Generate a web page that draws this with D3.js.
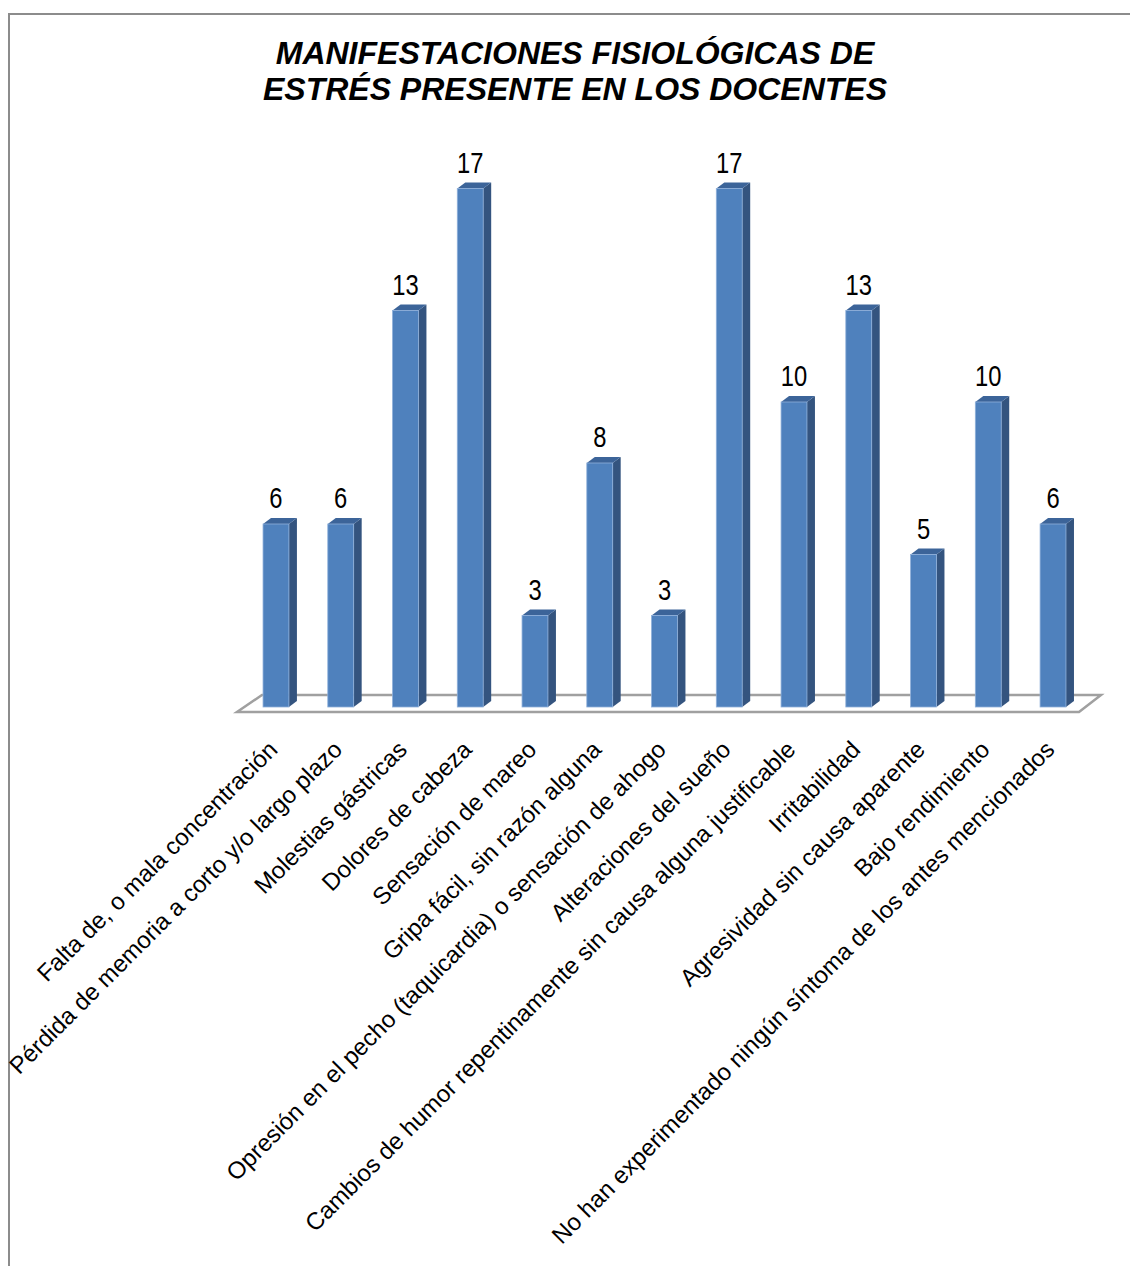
<!DOCTYPE html>
<html>
<head>
<meta charset="utf-8">
<script src="https://cdn.jsdelivr.net/npm/d3@7"></script>
<style>
  html, body { margin: 0; padding: 0; background: #fff; }
  svg { display: block; }
</style>
</head>
<body>
<svg id="chart" width="1130" height="1266"></svg>
<script>
const categories = [
  "Falta de, o mala concentración",
  "Pérdida de memoria a corto y/o largo plazo",
  "Molestias gástricas",
  "Dolores de cabeza",
  "Sensación de mareo",
  "Gripa fácil, sin razón alguna",
  "Opresión en el pecho (taquicardia) o sensación de ahogo",
  "Alteraciones del sueño",
  "Cambios de humor repentinamente sin causa alguna justificable",
  "Irritabilidad",
  "Agresividad sin causa aparente",
  "Bajo rendimiento",
  "No han experimentado ningún síntoma de los antes mencionados"
];
const values = [6, 6, 13, 17, 3, 8, 3, 17, 10, 13, 5, 10, 6];
const titleLines = ["MANIFESTACIONES FISIOLÓGICAS DE", "ESTRÉS PRESENTE EN LOS DOCENTES"];

const svg = d3.select("#chart");
const W = 1130, H = 1266;

// frame
svg.append("path")
  .attr("d", `M9,${H} L9,14 L${W},14`)
  .attr("fill", "none").attr("stroke", "#8c8c8c").attr("stroke-width", 2);

// title
const title = svg.append("text")
  .attr("text-anchor", "middle")
  .attr("font-family", "Liberation Sans, Arial, sans-serif")
  .attr("font-weight", "bold").attr("font-style", "italic")
  .attr("font-size", 32).attr("fill", "#000");
title.selectAll("tspan").data(titleLines).join("tspan")
  .attr("x", 575).attr("y", (d, i) => 64 + i * 36)
  .text(d => d);

const x = d3.scaleBand().domain(categories)
  .range([243.6, 1085.4]).paddingInner(0.6).paddingOuter(0.3);
const y = d3.scaleLinear().domain([0, 17]).range([707, 188.5]);

const dx = 8, dy = -6;      // bar depth
const fdx = 22, fdy = -17;  // floor depth

// floor
const fl = 237, fr = 1079, fy = 712;
svg.append("path")
  .attr("d", `M${fl},${fy} L${fr},${fy} L${fr + fdx},${fy + fdy} L${fl + fdx + 3},${fy + fdy} Z`)
  .attr("fill", "#fff").attr("stroke", "#a0a0a0").attr("stroke-width", 2.5)
  .attr("stroke-linejoin", "miter");

const bars = svg.append("g").selectAll("g").data(categories).join("g");
const bw = x.bandwidth();

// side face
bars.append("path")
  .attr("d", (d, i) => {
    const x1 = x(d) + bw, yt = y(values[i]), yb = y(0);
    return `M${x1},${yb} L${x1},${yt} L${x1 + dx},${yt + dy} L${x1 + dx},${yb + dy} Z`;
  })
  .attr("fill", "#34547f");
// top face
bars.append("path")
  .attr("d", (d, i) => {
    const x0 = x(d), yt = y(values[i]);
    return `M${x0},${yt} L${x0 + dx},${yt + dy} L${x0 + bw + dx},${yt + dy} L${x0 + bw},${yt} Z`;
  })
  .attr("fill", "#3c6499");
// front face
bars.append("rect")
  .attr("x", d => x(d)).attr("width", bw)
  .attr("y", (d, i) => y(values[i]))
  .attr("height", (d, i) => y(0) - y(values[i]))
  .attr("fill", "#4f81bd").attr("stroke", "#8fb0da").attr("stroke-width", 0.8);

// value labels
bars.append("text")
  .attr("transform", (d, i) => `translate(${x(d) + bw / 2},${y(values[i]) - 16}) scale(0.82,1)`)
  .attr("text-anchor", "middle")
  .attr("font-family", "Liberation Sans, Arial, sans-serif")
  .attr("font-size", 29).attr("fill", "#000")
  .text((d, i) => values[i]);

// category labels
svg.append("g").selectAll("text").data(categories).join("text")
  .attr("transform", d => `translate(${x(d) + bw / 2 + 3},${751}) rotate(-45)`)
  .attr("text-anchor", "end")
  .attr("font-family", "Liberation Sans, Arial, sans-serif")
  .attr("font-size", 24).attr("fill", "#000")
  .text(d => d);
</script>
</body>
</html>
